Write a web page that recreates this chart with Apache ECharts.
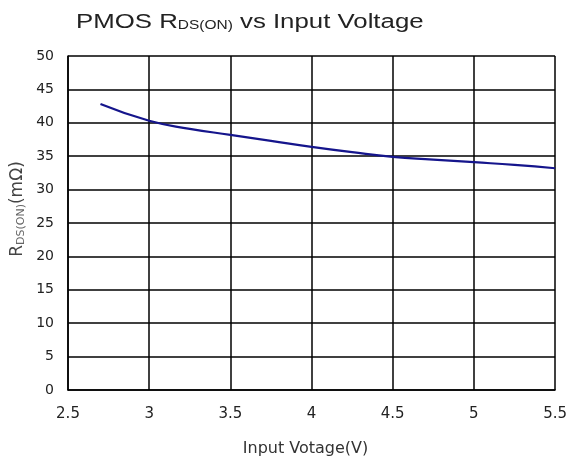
<!DOCTYPE html>
<html><head><meta charset="utf-8">
<script src="https://cdn.jsdelivr.net/npm/echarts@6/dist/echarts.min.js"></script>
<style>html,body{margin:0;padding:0;background:#fff}#c{width:570px;height:464px}</style>
</head><body><div id="c"></div>
<script>
var voltage = [2.7, 3.0, 3.25, 3.5, 3.75, 4.0, 4.25, 4.5, 4.75, 5.0, 5.25, 5.5];
var rdson   = [42.8, 40.3, 39.1, 38.2, 37.3, 36.4, 35.6, 34.9, 34.5, 34.1, 33.7, 33.2];
var xTicks = [2.5, 3, 3.5, 4, 4.5, 5, 5.5];
var yTicks = [0, 5, 10, 15, 20, 25, 30, 35, 40, 45, 50];
var titleText = 'PMOS R{sub|DS(ON)} vs Input Voltage';
var xName = 'Input Votage(V)';
var yName = 'R{sub|DS(ON)}(mΩ)';

var chart = echarts.init(document.getElementById('c'));
var font = 'Liberation Sans, Arial, sans-serif';
var font2 = 'DejaVu Sans, sans-serif';
chart.setOption({
  animation: false,
  graphic: [{
    type: 'text', x: 76, y: 22, scaleX: 1.29,
    style: {
      text: titleText, fontFamily: font, fontSize: 20, fill: '#222',
      verticalAlign: 'middle', align: 'left',
      rich: { sub: { fontFamily: font, fontSize: 12, fill: '#222', verticalAlign: 'bottom' } }
    }
  }, {
    type: 'text', x: 18, y: 209, rotation: Math.PI / 2,
    style: {
      text: yName, fontFamily: font2, fontSize: 17, fill: '#444',
      verticalAlign: 'middle', align: 'center',
      rich: { sub: { fontFamily: font2, fontSize: 11, fill: '#666', verticalAlign: 'bottom' } }
    }
  }],
  grid: { left: 68, right: 13, top: 56, bottom: 74 },
  xAxis: {
    type: 'value', min: 2.5, max: 5.5, interval: 0.5,
    name: xName, nameLocation: 'middle', nameGap: 51,
    nameTextStyle: { fontFamily: font2, fontSize: 16, color: '#333', padding: [0, 12, 0, 0] },
    axisLine: { show: true, lineStyle: { color: '#000', width: 1.5 } },
    axisTick: { show: false },
    axisLabel: { fontFamily: font2, fontSize: 15, color: '#222', margin: 17,
      formatter: function (v) { return xTicks.indexOf(v) >= 0 ? String(v) : ''; } },
    splitLine: { show: true, lineStyle: { color: '#000', width: 1.5 } }
  },
  yAxis: {
    type: 'value', min: 0, max: 50, interval: 5,
    axisLine: { show: true, lineStyle: { color: '#000', width: 1.5 } },
    axisTick: { show: false },
    axisLabel: { fontFamily: font2, fontSize: 14, color: '#222', margin: 14,
      formatter: function (v) { return yTicks.indexOf(v) >= 0 ? String(v) : ''; } },
    splitLine: { show: true, lineStyle: { color: '#000', width: 1.5 } }
  },
  series: [{
    type: 'line', smooth: true, showSymbol: false,
    data: voltage.map(function (v, i) { return [v, rdson[i]]; }),
    lineStyle: { color: '#15158c', width: 2.2 }
  }]
});
</script></body></html>
